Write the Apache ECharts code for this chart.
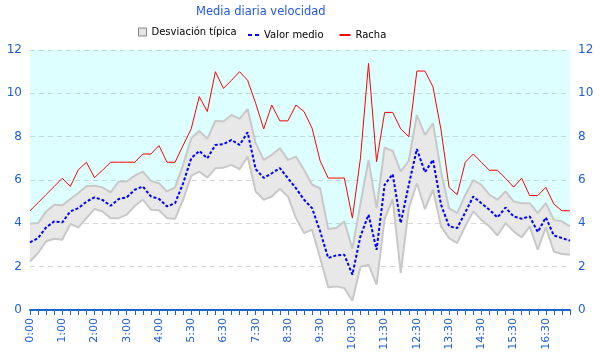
<!DOCTYPE html>
<html>
<head>
<meta charset="utf-8">
<script src="https://cdn.jsdelivr.net/npm/echarts@6/dist/echarts.min.js"></script>
<style>
html,body{margin:0;padding:0;background:#fff;}
#chart{width:600px;height:360px;}
</style>
</head>
<body>
<div id="chart"></div>
<script>
var categories = ['0:00','0:15','0:30','0:45','1:00','1:15','1:30','1:45','2:00','2:15','2:30','2:45','3:00','3:15','3:30','3:45','4:00','4:15','4:45','5:15','5:30','5:45','6:00','6:15','6:30','6:45','7:00','7:15','7:30','7:45','8:00','8:15','8:30','8:45','9:00','9:15','9:30','9:45','10:00','10:15','10:30','10:45','11:00','11:15','11:30','11:45','12:00','12:15','12:30','12:45','13:00','13:15','13:30','13:45','14:00','14:15','14:30','14:45','15:00','15:15','15:30','15:45','16:00','16:15','16:30','16:45','17:00','17:15'];

var racha = [4.58,4.95,5.33,5.7,6.08,5.7,6.47,6.82,6.11,6.45,6.82,6.82,6.82,6.82,7.2,7.2,7.59,6.82,6.82,7.6,8.36,9.85,9.16,11.0,10.23,10.6,11.0,10.6,9.54,8.36,9.46,8.73,8.73,9.46,9.16,8.39,6.88,6.09,6.09,6.09,4.24,7.0,11.38,6.85,9.12,9.12,8.36,8.0,11.03,11.03,10.3,8.31,5.66,5.32,6.82,7.2,6.82,6.45,6.45,6.08,5.67,6.08,5.28,5.28,5.66,4.89,4.58,4.58];

var valorMedio = [3.12,3.32,3.81,4.09,4.04,4.55,4.70,5.0,5.2,5.08,4.81,5.12,5.2,5.55,5.7,5.24,5.13,4.78,4.93,5.85,7.0,7.34,7.0,7.62,7.65,7.85,7.62,8.2,6.5,6.1,6.31,6.55,6.08,5.62,5.09,4.7,3.63,2.4,2.52,2.55,1.63,3.4,4.4,2.78,5.78,6.27,4.01,5.78,7.43,6.36,6.93,4.86,3.86,3.78,4.5,5.24,4.93,4.63,4.27,4.73,4.32,4.21,4.32,3.6,4.27,3.44,3.32,3.2];

var desvSup = [3.98,4.01,4.55,4.86,4.83,5.12,5.4,5.71,5.74,5.66,5.43,5.93,5.93,6.2,6.39,5.96,5.85,5.47,5.66,6.7,7.93,8.26,7.9,8.73,8.7,9.0,8.82,9.28,7.7,6.93,7.16,7.47,6.93,7.08,6.47,5.78,5.62,3.74,3.78,4.09,2.83,4.9,6.93,4.7,7.5,7.34,6.39,6.9,9.0,8.08,8.62,6.39,4.7,4.47,5.3,6.0,5.78,5.32,5.09,5.47,5.01,4.93,4.93,4.47,4.93,4.16,4.09,3.86];

var desvInf = [2.24,2.63,3.17,3.29,3.24,3.97,3.81,4.24,4.66,4.55,4.24,4.24,4.4,4.8,5.1,4.63,4.6,4.24,4.21,5.09,6.19,6.39,6.11,6.54,6.57,6.7,6.5,7.08,5.47,5.09,5.24,5.6,5.24,4.24,3.55,3.71,2.4,1.05,1.09,1.01,0.43,2.0,2.09,1.17,4.2,5.1,1.71,4.7,5.85,4.66,5.55,3.86,3.32,3.09,3.86,4.55,4.16,3.86,3.44,4.01,3.63,3.35,3.86,2.78,3.81,2.7,2.58,2.55];

var yMax = 12;

var bandWidth = desvSup.map(function(v,i){return +(v - desvInf[i]).toFixed(3);});
var skyFill = desvSup.map(function(v){return +(yMax - v).toFixed(3);});

var blue = '#1f5fd6';
var font = 'DejaVu Sans';

var chart = echarts.init(document.getElementById('chart'), null, {renderer:'canvas'});
chart.setOption({
  animation:false,
  title:{text:'Media diaria velocidad', left:196, top:6, padding:0,
    textStyle:{color:'#2458d8', fontSize:11.5, fontWeight:'normal', fontFamily:font}},
  legend:[
    {data:[{name:'Desviación típica', icon:'rect', itemStyle:{color:'#e4e4e4', borderColor:'#888', borderWidth:1}}],
     left:138, top:27, padding:0, itemWidth:8, itemHeight:8,
     textStyle:{color:'#000', fontSize:10, fontFamily:font}},
    {data:[{name:'Valor medio', icon:'path://M0,0h4v2h-4zM7,0h4v2h-4z'},
           {name:'Racha', icon:'rect'}],
     left:248, top:30, padding:0, itemWidth:11, itemHeight:2, itemGap:16,
     textStyle:{color:'#000', fontSize:10, fontFamily:font}}
  ],
  grid:{left:30, right:30, top:50, bottom:50, containLabel:false},
  xAxis:{type:'category', data:categories, boundaryGap:false,
    axisLine:{lineStyle:{color:'#1a66cc', width:2}},
    axisTick:{interval:0, length:5, lineStyle:{color:'#1a66cc', width:1}},
    axisLabel:{interval:3, rotate:90, color:blue, fontSize:11, fontFamily:font, margin:8},
    splitLine:{show:false}},
  yAxis:[
    {type:'value', min:0, max:yMax, interval:2, position:'left',
     axisLine:{show:false}, axisTick:{show:false},
     axisLabel:{color:blue, fontSize:12, fontFamily:font, margin:8},
     splitLine:{lineStyle:{color:'#d8d8d8', type:[5,4], width:1}}},
    {type:'value', min:0, max:yMax, interval:2, position:'right',
     axisLine:{show:false}, axisTick:{show:false},
     axisLabel:{color:blue, fontSize:12, fontFamily:font, margin:8},
     splitLine:{show:false}}
  ],
  series:[
    {name:'inf', type:'line', stack:'band', data:desvInf, symbol:'none', z:3,
     lineStyle:{color:'#c8c8c8', width:2}, silent:true},
    {name:'Desviación típica', type:'line', stack:'band', data:bandWidth, symbol:'none', z:2,
     itemStyle:{color:'#e8e8e8'},
     lineStyle:{color:'#c8c8c8', width:2}, areaStyle:{color:'#e8e8e8', opacity:1}},
    {name:'cielo', type:'line', stack:'band', data:skyFill, symbol:'none', z:1,
     lineStyle:{width:0}, areaStyle:{color:'rgba(0,255,255,0.13)', opacity:1}, silent:true},
    {name:'Valor medio', type:'line', data:valorMedio, symbol:'none', z:4,
     itemStyle:{color:'#0000ff'},
     lineStyle:{color:'#0000ff', width:2, type:[3,2]}},
    {name:'Racha', type:'line', data:racha, symbol:'none', z:5,
     itemStyle:{color:'#ff0000'},
     lineStyle:{color:'#ff0000', width:1}}
  ]
});
</script>
</body>
</html>
